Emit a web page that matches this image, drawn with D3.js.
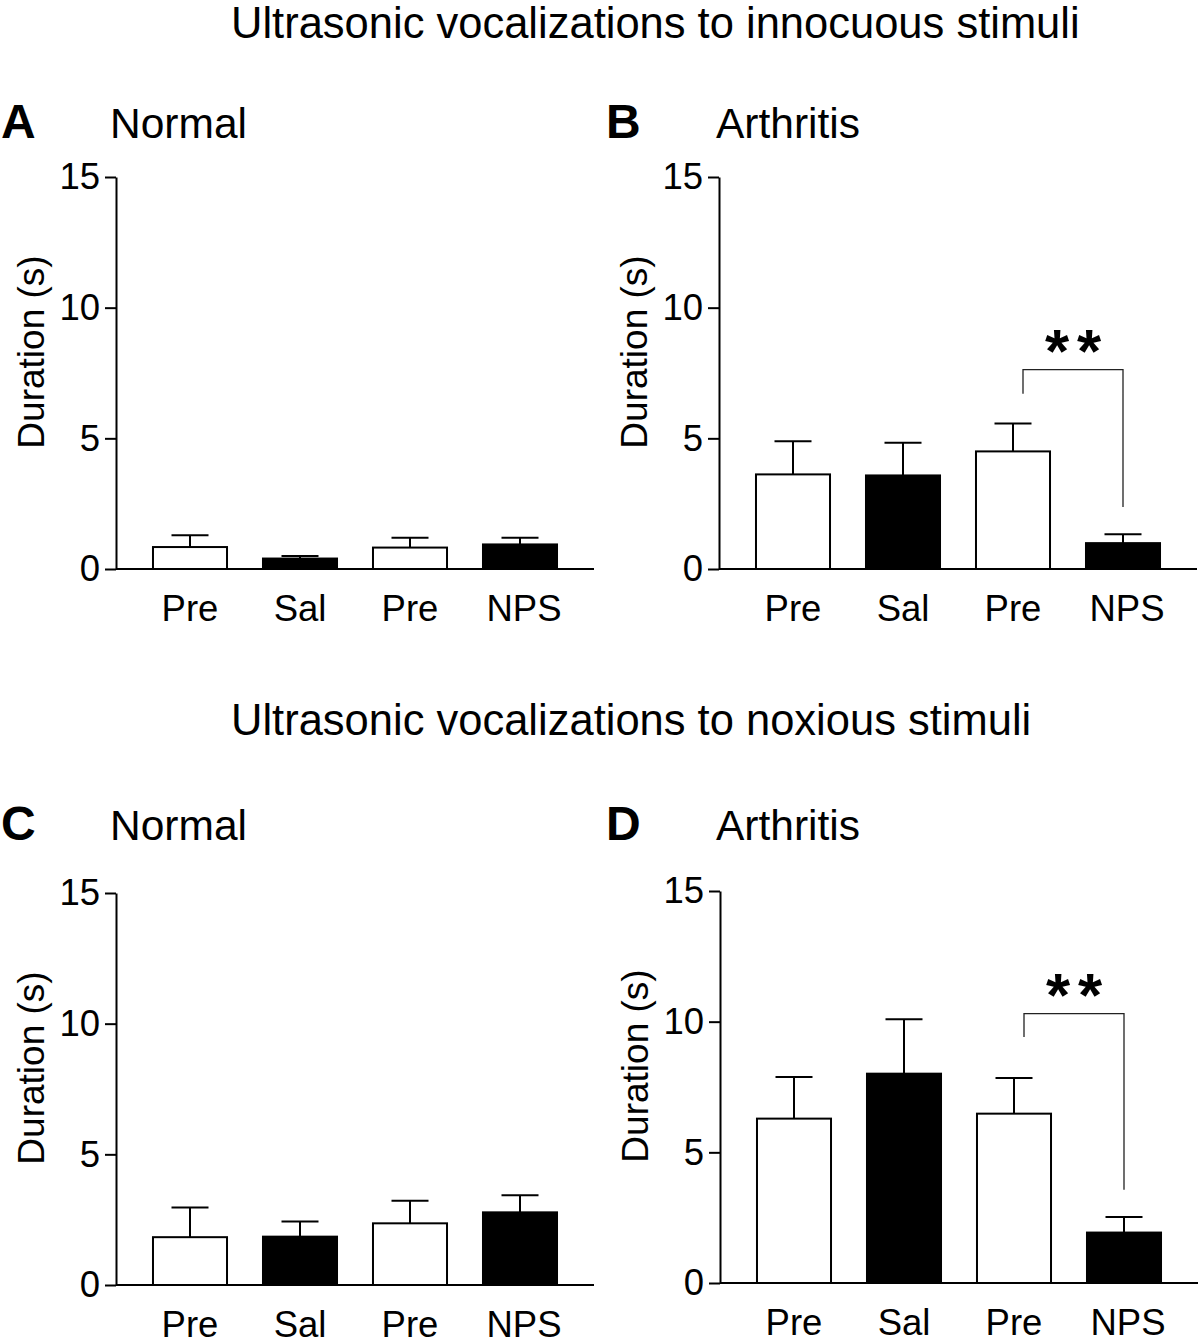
<!DOCTYPE html>
<html>
<head>
<meta charset="utf-8">
<script src="https://cdn.jsdelivr.net/npm/d3@7"></script>
<style>
  html, body { margin: 0; padding: 0; background: #fff; }
  svg { display: block; }
  text { font-family: "Liberation Sans", Arial, Helvetica, sans-serif; fill: #000; }
</style>
</head>
<body>
<svg id="chart" width="1200" height="1344"></svg>
<script>
// ---- data ----
const groups = ["Pre", "Sal", "Pre", "NPS"];
const yTicks = [0, 5, 10, 15];
const yLabel = "Duration (s)";
const sectionTitles = ["Ultrasonic vocalizations to innocuous stimuli", "Ultrasonic vocalizations to noxious stimuli"];
const panelLetters = ["A", "B", "C", "D"];
const panelNames = ["Normal", "Arthritis", "Normal", "Arthritis"];

const meansA = [0.84, 0.40, 0.82, 0.94];
const semA   = [0.45, 0.10, 0.38, 0.26];
const meansB = [3.62, 3.58, 4.50, 0.99];
const semB   = [1.27, 1.25, 1.07, 0.34];
const meansC = [1.83, 1.85, 2.36, 2.78];
const semC   = [1.14, 0.58, 0.86, 0.65];
const meansD = [6.29, 8.01, 6.48, 1.93];
const semD   = [1.59, 2.08, 1.36, 0.60];

// significance brackets: [from group, to group, bar level, left leg end, right leg end]
const sigB = { from: 2, to: 3, level: 7.63, leftEnd: 6.71, rightEnd: 2.37, label: "**" };
const sigD = { from: 2, to: 3, level: 10.31, leftEnd: 9.41, rightEnd: 3.57, label: "**" };

// ---- layout ----
const svg = d3.select("#chart");

svg.append("text").attr("x", 231).attr("y", 38).attr("font-size", 43.5).text(sectionTitles[0]);
svg.append("text").attr("x", 231).attr("y", 735).attr("font-size", 43.5).text(sectionTitles[1]);

const panels = [
  { letter: panelLetters[0], name: panelNames[0], ax: 116, lx: 1, nx: 110, top: 177, bottom: 569, hy: 138, means: meansA, sem: semA, sig: null },
  { letter: panelLetters[1], name: panelNames[1], ax: 719, lx: 606, nx: 716, top: 177, bottom: 569, hy: 138, means: meansB, sem: semB, sig: sigB },
  { letter: panelLetters[2], name: panelNames[2], ax: 116, lx: 1, nx: 110, top: 893, bottom: 1285, hy: 840, means: meansC, sem: semC, sig: null },
  { letter: panelLetters[3], name: panelNames[3], ax: 720, lx: 606, nx: 716, top: 891, bottom: 1283, hy: 840, means: meansD, sem: semD, sig: sigD },
];

panels.forEach(p => {
  const g = svg.append("g");
  // header
  g.append("text").attr("x", p.lx).attr("y", p.hy).attr("font-size", 48).attr("font-weight", "bold").text(p.letter);
  g.append("text").attr("x", p.nx).attr("y", p.hy).attr("font-size", 42.5).text(p.name);

  const y = d3.scaleLinear().domain([0, 15]).range([p.bottom, p.top]);
  const idx = d3.range(groups.length);
  const x = d3.scaleBand().domain(idx).range([p.ax + 19, p.ax + 459]).paddingInner(0.327).paddingOuter(0.1635);

  // y axis
  const yAxis = g.append("g").attr("transform", `translate(${p.ax},0)`)
    .call(d3.axisLeft(y).tickValues(yTicks).tickSize(11).tickPadding(5).tickSizeOuter(0));
  yAxis.select(".domain").attr("stroke", "#000").attr("stroke-width", 2);
  yAxis.selectAll(".tick line").attr("stroke", "#000").attr("stroke-width", 2);
  yAxis.selectAll(".tick text").attr("font-size", 36.5).attr("font-family", "Liberation Sans, Arial, sans-serif").attr("fill", "#000");

  // y label
  g.append("text")
    .attr("transform", `translate(${p.ax - 72},${p.top + 175}) rotate(-90)`)
    .attr("text-anchor", "middle").attr("font-size", 37).text(yLabel);

  // error bars
  const capW = 37;
  idx.forEach(i => {
    const cx = x(i) + x.bandwidth() / 2;
    g.append("line").attr("x1", cx).attr("x2", cx)
      .attr("y1", y(p.means[i])).attr("y2", y(p.means[i] + p.sem[i]))
      .attr("stroke", "#000").attr("stroke-width", 2);
    g.append("line").attr("x1", cx - capW / 2).attr("x2", cx + capW / 2)
      .attr("y1", y(p.means[i] + p.sem[i])).attr("y2", y(p.means[i] + p.sem[i]))
      .attr("stroke", "#000").attr("stroke-width", 2);
  });

  // bars
  g.selectAll("rect.bar").data(idx).enter().append("rect")
    .attr("class", "bar")
    .attr("x", i => x(i))
    .attr("width", x.bandwidth())
    .attr("y", i => y(p.means[i]))
    .attr("height", i => y(0) - y(p.means[i]))
    .attr("fill", i => groups[i] === "Pre" ? "#fff" : "#000")
    .attr("stroke", "#000").attr("stroke-width", 2);

  // x axis
  const xAxis = g.append("g").attr("transform", `translate(0,${p.bottom})`)
    .call(d3.axisBottom(x).tickSize(0).tickPadding(26).tickFormat(i => groups[i]));
  xAxis.select(".domain").remove();
  xAxis.selectAll(".tick text").attr("font-size", 36.5).attr("font-family", "Liberation Sans, Arial, sans-serif").attr("fill", "#000")
    .attr("dx", i => groups[i] === "NPS" ? 4 : 0);
  g.append("line").attr("x1", p.ax).attr("x2", p.ax + 478)
    .attr("y1", p.bottom).attr("y2", p.bottom)
    .attr("stroke", "#000").attr("stroke-width", 2);

  // significance bracket
  if (p.sig) {
    const s = p.sig;
    const xl = x(s.from) + x.bandwidth() / 2 + 10;
    const xr = x(s.to) + x.bandwidth() / 2;
    const path = d3.path();
    path.moveTo(xl, y(s.leftEnd));
    path.lineTo(xl, y(s.level));
    path.lineTo(xr, y(s.level));
    path.lineTo(xr, y(s.rightEnd));
    g.append("path").attr("d", path.toString()).attr("fill", "none")
      .attr("stroke", "#222").attr("stroke-width", 1.3);
    const chars = s.label.split("");
    const gap = 32;
    const mid = (xl + xr) / 2;
    chars.forEach((c, k) => {
      g.append("text")
        .attr("x", mid + (k - (chars.length - 1) / 2) * gap)
        .attr("y", y(s.level) + 2)
        .attr("text-anchor", "middle").attr("font-size", 62).attr("font-weight", "bold")
        .text(c);
    });
  }
});
</script>
</body>
</html>
